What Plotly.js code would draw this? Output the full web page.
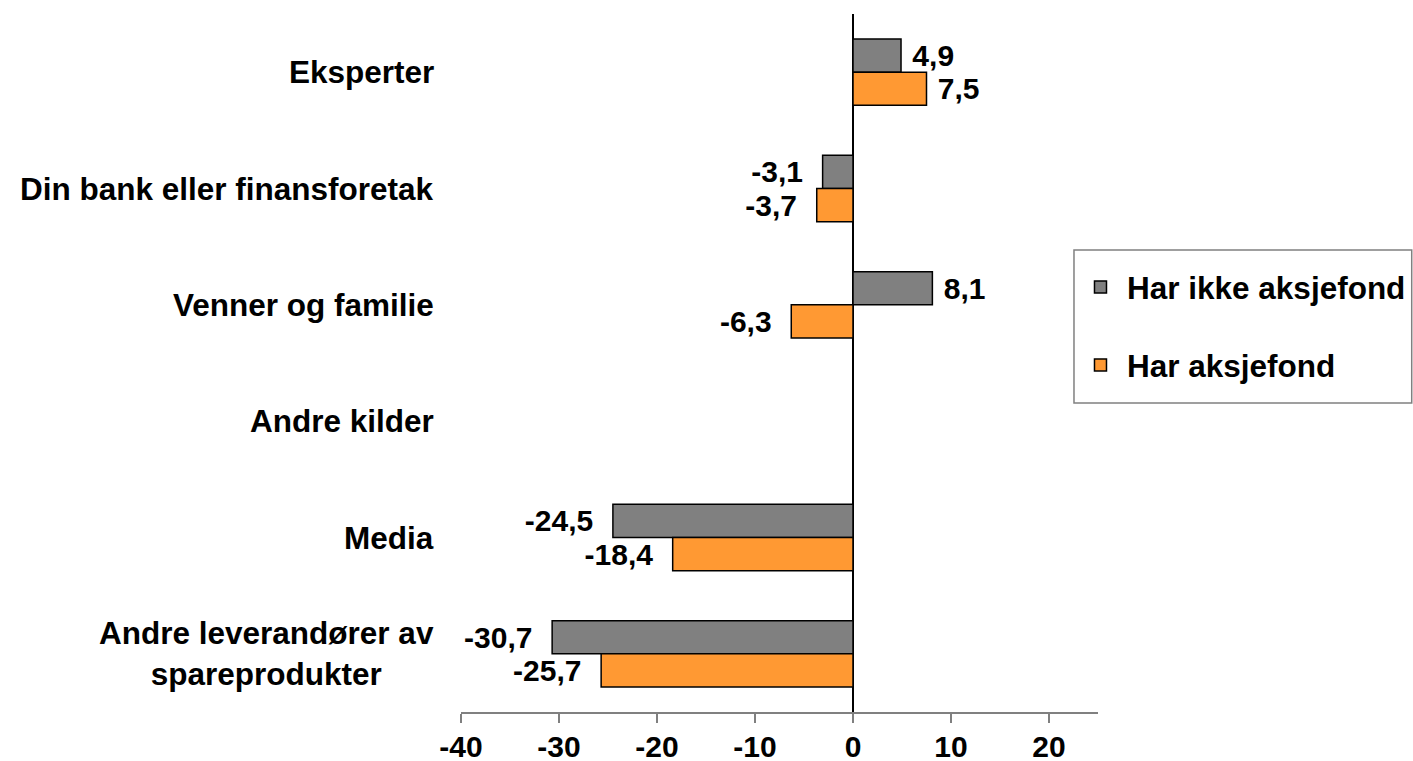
<!DOCTYPE html>
<html>
<head>
<meta charset="utf-8">
<script src="https://cdn.plot.ly/plotly-3.0.1.min.js"></script>
<style>
  html, body { margin: 0; padding: 0; background: #fff; }
  #chart { width: 1413px; height: 761px; }
</style>
</head>
<body>
<div id="chart"></div>
<script>
// categories, top to bottom
const categories = [
    'Eksperter',
    'Din bank eller finansforetak',
    'Venner og familie',
    'Andre kilder',
    'Media',
    'Andre leverandører av<br>spareprodukter'
];
const harIkke = [4.9, -3.1, 8.1, null, -24.5, -30.7];   // Har ikke aksjefond
const harAksje = [7.5, -3.7, -6.3, null, -18.4, -25.7];  // Har aksjefond
const tickVals = [-40, -30, -20, -10, 0, 10, 20];
const tickText = ['-40', '-30', '-20', '-10', '0', '10', '20'];

const FONT = '"Liberation Sans", Arial, sans-serif';
const NB = '\u00a0';

// comma decimals, with a little padding away from the bar end
function labels(vals) {
    return vals.map(v => {
        if (v === null) return '';
        let s = v.toFixed(1).replace('.', ',');
        return v < 0 ? s + NB + NB : NB + s;
    });
}

function barTrace(name, vals, color, group) {
    return {
        type: 'bar',
        orientation: 'h',
        name: name,
        legendgroup: group,
        y: categories,
        x: vals,
        text: labels(vals),
        textposition: 'outside',
        constraintext: 'none',
        cliponaxis: false,
        textfont: { family: FONT, size: 30, color: '#000', weight: 'bold' },
        marker: { color: color, line: { color: '#000', width: 1.5 } },
        hoverinfo: 'x+name'
    };
}

const data = [
    barTrace('Har ikke aksjefond', harIkke, '#808080', 'a'),
    barTrace('Har aksjefond', harAksje, '#FF9933', 'b')
];

// category labels as annotations so the two-line one is centred
const annotations = categories.map(c => ({
    xref: 'paper', yref: 'y',
    x: -0.0395, y: c,
    xanchor: 'right', yanchor: 'middle',
    align: 'center',
    text: c,
    showarrow: false,
    font: { family: FONT, size: 31.5, color: '#000', weight: 'bold' }
}));

// legend frame drawn as a shape (plotly has no legend padding)
const shapes = [{
    type: 'rect', xref: 'paper', yref: 'paper',
    x0: 0.9623, x1: 1.4925, y0: 0.4427, y1: 0.662,
    line: { color: '#808080', width: 1.5 },
    fillcolor: '#fff',
    layer: 'below'
}];

const layout = {
    width: 1413,
    height: 761,
    margin: { l: 461, r: 315, t: 14, b: 49, autoexpand: false },
    paper_bgcolor: '#fff',
    plot_bgcolor: 'rgba(0,0,0,0)',
    font: { family: FONT, color: '#000' },
    barmode: 'group',
    bargap: 0.43,
    bargroupgap: 0,
    showlegend: true,
    legend: {
        x: 0.9623, y: 0.6476,
        xanchor: 'left', yanchor: 'top',
        bgcolor: 'rgba(0,0,0,0)',
        borderwidth: 0,
        itemwidth: 43,
        traceorder: 'grouped',
        tracegroupgap: 34,
        font: { family: FONT, size: 31.5, color: '#000', weight: 'bold' }
    },
    xaxis: {
        range: [-40, 25],
        tickvals: tickVals,
        ticktext: tickText,
        ticks: 'outside',
        ticklen: 9,
        tickwidth: 1.5,
        tickcolor: '#808080',
        showline: true,
        linecolor: '#808080',
        linewidth: 1.5,
        showgrid: false,
        zeroline: true,
        zerolinecolor: '#000',
        zerolinewidth: 1.5,
        ticklabelstandoff: -2,
        tickfont: { family: FONT, size: 30, color: '#000', weight: 'bold' },
        fixedrange: true
    },
    yaxis: {
        type: 'category',
        autorange: 'reversed',
        showticklabels: false,
        ticks: '',
        showline: false,
        showgrid: false,
        zeroline: false,
        fixedrange: true
    },
    shapes: shapes,
    annotations: annotations
};

Plotly.newPlot('chart', data, layout, { displayModeBar: false, staticPlot: true });
</script>
</body>
</html>
